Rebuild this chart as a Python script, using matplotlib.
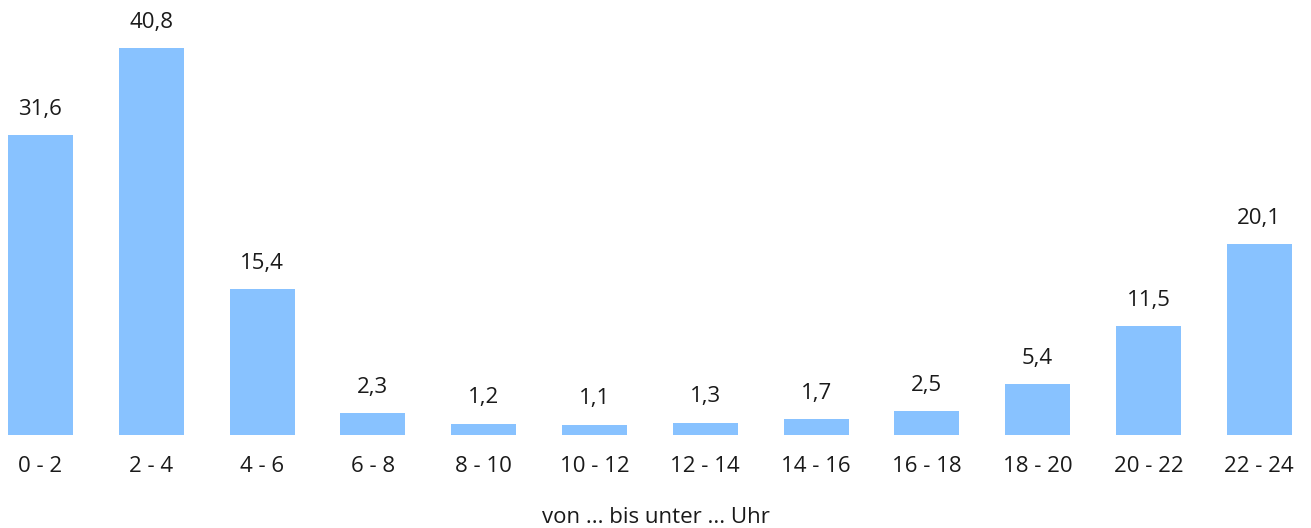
import matplotlib.pyplot as plt
import numpy as np

plt.rcParams['font.family'] = ['Open Sans', 'DejaVu Sans']

categories = ["0 - 2", "2 - 4", "4 - 6", "6 - 8", "8 - 10", "10 - 12",
              "12 - 14", "14 - 16", "16 - 18", "18 - 20", "20 - 22", "22 - 24"]
values = [31.6, 40.8, 15.4, 2.3, 1.2, 1.1, 1.3, 1.7, 2.5, 5.4, 11.5, 20.1]

BAR_COLOR = "#88c2ff"
TEXT_COLOR = "#1a1a1a"

fig = plt.figure(figsize=(13.11, 5.28), dpi=100)
ax = fig.add_axes([0, 93 / 528, 1, 435 / 528])

x = np.arange(len(categories))
bars = ax.bar(x, values, width=0.587, color=BAR_COLOR)

labels = [f"{v:.1f}".replace(".", ",") for v in values]
ax.bar_label(bars, labels=labels, padding=11, fontsize=16, color=TEXT_COLOR)

ax.set_xlim(-0.3655, 11.467)
ax.set_ylim(0, 45.86)
ax.set_xticks(x)
ax.set_xticklabels(categories, fontsize=16, color=TEXT_COLOR)
ax.tick_params(axis="x", length=0, pad=15)
ax.set_yticks([])
for s in ax.spines.values():
    s.set_visible(False)

ax.set_xlabel("von ... bis unter ... Uhr", fontsize=16, color=TEXT_COLOR, labelpad=22)

fig.savefig("out.png", dpi=100)
